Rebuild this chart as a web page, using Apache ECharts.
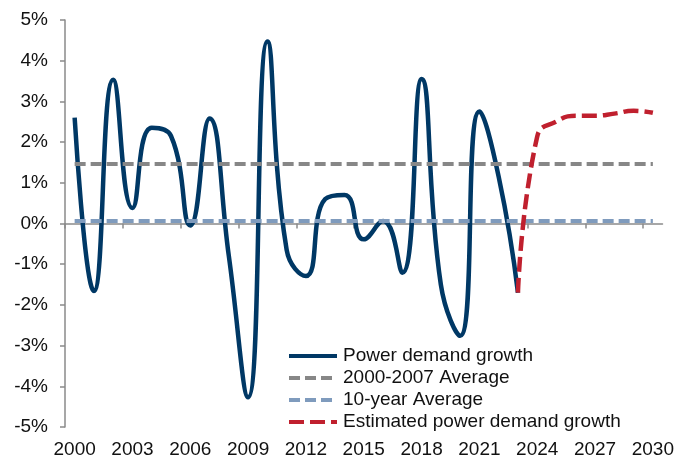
<!DOCTYPE html>
<html>
<head>
<meta charset="utf-8">
<script src="https://cdn.jsdelivr.net/npm/echarts@6/dist/echarts.min.js"></script>
<style>
html, body { margin: 0; padding: 0; background: #fff; }
#main { width: 677px; height: 459px; }
</style>
</head>
<body>
<div id="main"></div>
<script>
var years = ['2000','2001','2002','2003','2004','2005','2006','2007','2008','2009',
    '2010','2011','2012','2013','2014','2015','2016','2017','2018','2019',
    '2020','2021','2022','2023','2024','2025','2026','2027','2028','2029','2030'];

// power demand growth, % (2000-2023)
var demand = [2.6, -1.66, 3.53, 0.38, 2.35, 2.15, -0.05, 2.58, -0.8, -4.27,
    4.47, -0.65, -1.29, 0.6, 0.7, -0.39, 0.06, -1.21, 3.55, -1.5,
    -2.76, 2.75, 1.15, -1.7];

// estimate starts from the last actual value (2023)
var estimated = [null, null, null, null, null, null, null, null, null, null,
    null, null, null, null, null, null, null, null, null, null,
    null, null, null, -1.7, 2.14, 2.51, 2.65, 2.65, 2.7, 2.77, 2.72];

var avg2000_2007 = [1.46, 1.46, 1.46, 1.46, 1.46, 1.46, 1.46, 1.46, 1.46, 1.46,
    1.46, 1.46, 1.46, 1.46, 1.46, 1.46, 1.46, 1.46, 1.46, 1.46,
    1.46, 1.46, 1.46, 1.46, 1.46, 1.46, 1.46, 1.46, 1.46, 1.46, 1.46];

var avg10y = [0.06, 0.06, 0.06, 0.06, 0.06, 0.06, 0.06, 0.06, 0.06, 0.06,
    0.06, 0.06, 0.06, 0.06, 0.06, 0.06, 0.06, 0.06, 0.06, 0.06,
    0.06, 0.06, 0.06, 0.06, 0.06, 0.06, 0.06, 0.06, 0.06, 0.06, 0.06];

// category boundaries for the tick marks on the zero line
var boundaries = years.concat(['']);

var font = 'Arial, "Liberation Sans", sans-serif';

var myChart = echarts.init(document.getElementById('main'));

var option = {
    animation: false,
    textStyle: { fontFamily: font },
    grid: { left: 65, right: 14, top: 20, bottom: 31 },
    legend: {
        orient: 'vertical',
        left: 287,
        top: 345,
        padding: 0,
        itemGap: 0,
        itemWidth: 48,
        itemHeight: 10,
        itemStyle: { opacity: 0 },
        lineStyle: { width: 4 },
        textStyle: { fontSize: 19, color: '#111', lineHeight: 22, fontFamily: font, padding: [0, 0, 0, 1] },
        data: ['Power demand growth', '2000-2007 Average', '10-year Average', 'Estimated power demand growth']
    },
    xAxis: [
        {
            type: 'category',
            data: years,
            position: 'bottom',
            boundaryGap: true,
            axisLine: { show: false, onZero: false },
            axisTick: { show: false },
            axisLabel: { interval: 2, fontSize: 19, color: '#111', margin: 13, fontFamily: font }
        },
        {
            type: 'category',
            data: boundaries,
            position: 'top',
            boundaryGap: false,
            axisLine: { show: true, onZero: true, lineStyle: { color: '#8a8a8a', width: 1.5 } },
            axisTick: { show: true, inside: true, interval: 2, length: 5, lineStyle: { color: '#8a8a8a', width: 1.5 } },
            axisLabel: { show: false, interval: 2 }
        }
    ],
    yAxis: {
        type: 'value',
        min: -5,
        max: 5,
        interval: 1,
        splitLine: { show: false },
        axisLine: { show: true, lineStyle: { color: '#8a8a8a', width: 1.5 } },
        axisTick: { show: true, length: 5, lineStyle: { color: '#8a8a8a', width: 1.5 } },
        axisLabel: { formatter: '{value}%', fontSize: 19, color: '#111', margin: 17, fontFamily: font }
    },
    series: [
        {
            name: 'Power demand growth',
            type: 'line',
            data: demand,
            smooth: 0.5,
            symbol: 'none',
            lineStyle: { color: '#003865', width: 4.5 },
            itemStyle: { color: '#003865' }
        },
        {
            name: '2000-2007 Average',
            type: 'line',
            data: avg2000_2007,
            symbol: 'none',
            lineStyle: { color: '#878787', width: 4, type: [11, 5] },
            itemStyle: { color: '#878787' }
        },
        {
            name: '10-year Average',
            type: 'line',
            data: avg10y,
            symbol: 'none',
            lineStyle: { color: '#7f9bbd', width: 4, type: [11, 5] },
            itemStyle: { color: '#7f9bbd' }
        },
        {
            name: 'Estimated power demand growth',
            type: 'line',
            data: estimated,
            smooth: 0.5,
            symbol: 'none',
            lineStyle: { color: '#c0202e', width: 4.5, type: [15, 6] },
            itemStyle: { color: '#c0202e' }
        }
    ]
};
myChart.setOption(option);
</script>
</body>
</html>
